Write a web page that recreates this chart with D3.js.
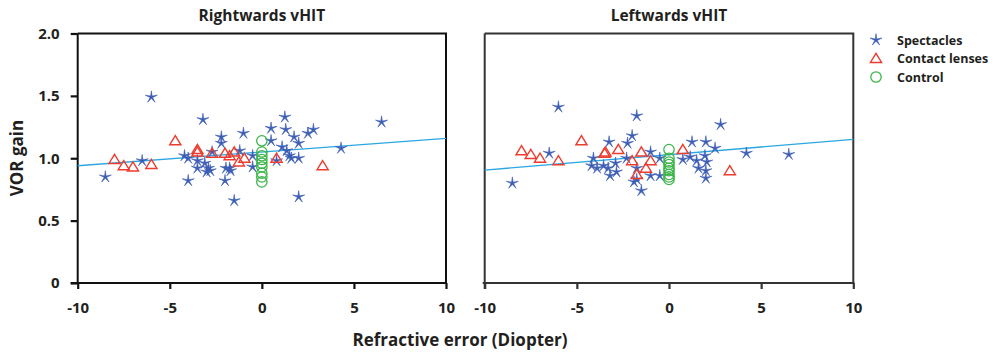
<!DOCTYPE html>
<html lang="en">
<head>
<meta charset="UTF-8">
<title>VOR gain vs refractive error</title>
<script src="https://d3js.org/d3.v7.min.js"></script>
<style>
  body { margin: 0; background: #fff; overflow: hidden; }
  svg { display: block; }
  text { font-family: "Open Sans", Arial, sans-serif; font-weight: 700; fill: #231f20; }
</style>
</head>
<body>
<svg width="997" height="352"></svg>
<script>
// refractive error (D), VOR gain
const spectaclesRight = [
  [-8.5,0.85],[-6.0,1.49],[-6.5,0.98],[-4.2,1.02],[-4.0,1.0],[-4.0,0.82],[-3.5,0.98],[-3.5,0.92],
  [-3.2,1.31],[-3.1,0.96],[-3.0,0.89],[-2.9,0.92],[-2.8,0.9],[-2.7,1.05],[-2.2,1.17],[-2.2,1.12],
  [-2.0,0.82],[-1.95,0.92],[-1.75,0.92],[-1.7,0.9],[-1.5,0.66],[-1.2,1.06],[-1.0,1.2],[-0.5,1.02],
  [-0.5,0.93],[0.5,1.24],[0.5,1.14],[0.8,0.98],[1.1,1.09],[1.25,1.33],[1.3,1.23],[1.35,1.06],
  [1.5,1.02],[1.6,1.0],[1.75,1.17],[2.0,1.12],[2.0,1.0],[2.0,0.69],[2.5,1.2],[2.8,1.23],[4.3,1.08],[6.5,1.29]
];
const contactRight = [
  [-8.0,0.99],[-7.5,0.94],[-7.0,0.93],[-6.0,0.95],[-4.7,1.14],[-3.5,1.07],[-3.5,1.05],[-2.7,1.04],
  [-2.0,1.04],[-1.75,1.02],[-1.5,1.05],[-1.25,0.97],[-0.95,1.0],[0.8,1.0],[3.3,0.94]
];
const controlRight = [
  [0,1.14],[0,1.05],[0,1.02],[0,0.99],[0,0.96],[0,0.93],[0,0.88],[0,0.85],[0,0.81]
];

const spectaclesLeft = [
  [-8.5,0.8],[-6.0,1.41],[-6.5,1.04],[-4.1,1.0],[-4.2,0.94],[-3.9,0.92],[-3.55,0.94],[-3.3,0.92],
  [-3.25,1.13],[-3.2,0.86],[-2.9,0.96],[-2.85,0.89],[-2.3,1.0],[-2.25,1.12],[-2.0,1.18],[-1.75,1.34],
  [-1.75,0.92],[-1.75,0.83],[-1.9,0.81],[-1.5,0.74],[-1.0,1.05],[-1.0,0.86],[-0.5,1.0],[-0.5,0.86],
  [0.75,0.99],[1.15,1.01],[1.25,1.13],[1.5,0.98],[1.6,0.92],[1.95,1.02],[2.0,1.13],[2.05,0.97],
  [2.0,0.9],[2.0,0.84],[2.5,1.08],[2.8,1.27],[4.2,1.04],[6.5,1.03]
];
const contactLeft = [
  [-8.0,1.06],[-7.5,1.03],[-7.0,1.0],[-6.0,0.98],[-4.75,1.14],[-3.5,1.04],[-3.45,1.05],[-2.75,1.07],
  [-2.0,0.98],[-1.75,0.87],[-1.5,1.05],[-1.25,0.92],[-1.0,0.98],[0.75,1.07],[3.3,0.9]
];
const controlLeft = [
  [0,1.07],[0,1.0],[0,0.97],[0,0.95],[0,0.92],[0,0.9],[0,0.87],[0,0.85],[0,0.83]
];

// regression line, gain at x = -10 and x = 10
const fitRight = [[-10,0.94],[10,1.16]];
const fitLeft = [[-10,0.905],[10,1.152]];

const xTicks = [-10,-5,0,5,10];
const yTicks = [0,0.5,1.0,1.5,2.0];
const legendItems = ["Spectacles","Contact lenses","Control"];

const blue = "#3b5cb3", red = "#ec3b2f", green = "#3cb54a", lineBlue = "#2aa7e1";

const svg = d3.select("svg");
const y = d3.scaleLinear().domain([0,2]).range([283,33.5]);

function starPath(r1, r2) {
  const pts = [];
  for (let i = 0; i < 10; i++) {
    const a = -Math.PI/2 + i*Math.PI/5;
    const r = i % 2 ? r2 : r1;
    pts.push([r*Math.cos(a), r*Math.sin(a)]);
  }
  return "M" + pts.map(p => p.join(",")).join("L") + "Z";
}
const star = starPath(6.3, 1.3);
const tri = "M0,-5.2L5.6,4L-5.6,4Z";

function panel(x0, x1, title, spec, cont, ctrl, fit, showY, frameColor) {
  const x = d3.scaleLinear().domain([-10,10]).range([x0,x1]);
  const g = svg.append("g");

  // frame top/right
  g.append("path")
    .attr("d", `M${x0},${y(2)}H${x1}V${y(0)}`)
    .attr("fill","none").attr("stroke",frameColor).attr("stroke-width",2);

  const xa = g.append("g").attr("transform",`translate(0,${y(0)})`)
    .call(d3.axisBottom(x).tickValues(xTicks).tickSize(6).tickPadding(13).tickFormat(d => String(d)));
  xa.select(".domain").attr("stroke",frameColor).attr("stroke-width",2)
    .attr("d", `M${showY ? x0-7 : x0-2},0H${x1+1}`);
  xa.selectAll(".tick line").attr("stroke",frameColor).attr("stroke-width",2.2);
  xa.attr("font-size",15).attr("font-family",null);

  if (showY) {
    const ya = g.append("g").attr("transform",`translate(${x0},0)`)
      .call(d3.axisLeft(y).tickValues(yTicks).tickSize(7).tickPadding(11)
        .tickFormat(d => d === 0 ? "0" : d3.format(".1f")(d)));
    ya.select(".domain").attr("stroke",frameColor).attr("stroke-width",2)
      .attr("d", `M0,${y(2)}V${y(0)}`);
    ya.selectAll(".tick line").attr("stroke",frameColor).attr("stroke-width",2.2);
    ya.attr("font-size",15).attr("font-family",null);
  } else {
    g.append("line").attr("x1",x0).attr("x2",x0).attr("y1",y(2)).attr("y2",y(0)+6)
      .attr("stroke",frameColor).attr("stroke-width",2);
  }
  g.selectAll(".tick text").attr("fill","#231f20");

  g.append("text").attr("x",(x0+x1)/2).attr("y",21).attr("text-anchor","middle")
    .style("font-size","15.5px").text(title);

  g.append("line")
    .attr("x1",x(fit[0][0])).attr("y1",y(fit[0][1]))
    .attr("x2",x(fit[1][0])).attr("y2",y(fit[1][1]))
    .attr("stroke",lineBlue).attr("stroke-width",1.3);

  g.selectAll(".spec").data(spec).join("path")
    .attr("d",star).attr("fill",blue).attr("stroke",blue).attr("stroke-width",0.6)
    .attr("transform",d => `translate(${x(d[0])},${y(d[1])})`);
  g.selectAll(".cont").data(cont).join("path")
    .attr("d",tri).attr("fill","none").attr("stroke",red).attr("stroke-width",1.4)
    .attr("transform",d => `translate(${x(d[0])},${y(d[1])})`);
  g.selectAll(".ctrl").data(ctrl).join("circle")
    .attr("cx",d => x(d[0])).attr("cy",d => y(d[1])).attr("r",5.2)
    .attr("fill","none").attr("stroke",green).attr("stroke-width",1.3);
}

panel(77.7, 446, "Rightwards vHIT", spectaclesRight, contactRight, controlRight, fitRight, true, "#111");
panel(484.7, 853.3, "Leftwards vHIT", spectaclesLeft, contactLeft, controlLeft, fitLeft, false, "#333");

svg.append("text").attr("transform","translate(23,158) rotate(-90)")
  .attr("text-anchor","middle").style("font-size","17px").text("VOR gain");
svg.append("text").attr("x",460).attr("y",346).attr("text-anchor","middle")
  .style("font-size","17px").text("Refractive error (Diopter)");

// legend
const lg = svg.append("g").attr("transform","translate(876,40)");
legendItems.forEach((name,i) => {
  const row = lg.append("g").attr("transform",`translate(0,${i*18.5})`);
  if (i === 0) row.append("path").attr("d",star).attr("fill",blue).attr("stroke",blue).attr("stroke-width",0.6);
  if (i === 1) row.append("path").attr("d",tri).attr("fill","none").attr("stroke",red).attr("stroke-width",1.4);
  if (i === 2) row.append("circle").attr("r",5.2).attr("fill","none").attr("stroke",green).attr("stroke-width",1.3);
  row.append("text").attr("x",21).attr("y",4.5).style("font-size","12.5px").text(name);
});
</script>
</body>
</html>
